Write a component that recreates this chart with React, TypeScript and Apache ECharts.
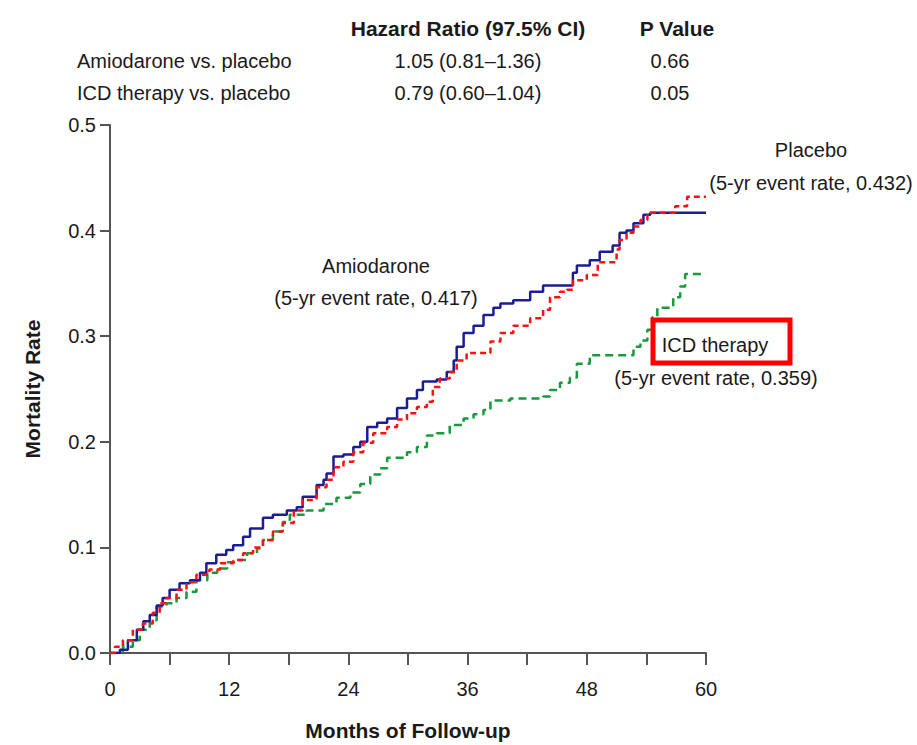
import React, { useEffect, useRef } from "react";
import * as echarts from "echarts";

// Kaplan-Meier style step data (months, cumulative mortality)
const amioMonths = [0, 1.0, 1.8, 2.7, 3.35, 4.0, 4.7, 5.3, 6.0, 7.0, 8.05, 9.06, 9.7, 10.7, 11.7, 12.4, 13.4, 14.1, 15.4, 16.4, 17.8, 18.8, 19.4, 20.8, 21.5, 21.8, 22.5, 23.5, 24.5, 25.2, 25.9, 26.9, 27.9, 28.9, 29.9, 30.9, 31.5, 32.9, 33.9, 34.6, 34.9, 35.6, 36.6, 37.6, 38.6, 39.3, 40.6, 42.3, 43.6, 46.6, 47.0, 48.3, 49.3, 50.6, 51.3, 52.0, 52.7, 53.7, 54.4, 60];
const amioRates = [0, 0.003, 0.012, 0.022, 0.030, 0.036, 0.045, 0.052, 0.060, 0.066, 0.069, 0.076, 0.085, 0.093, 0.0975, 0.102, 0.110, 0.118, 0.128, 0.131, 0.135, 0.138, 0.148, 0.159, 0.164, 0.170, 0.186, 0.188, 0.195, 0.200, 0.214, 0.218, 0.222, 0.232, 0.241, 0.249, 0.257, 0.259, 0.266, 0.277, 0.290, 0.303, 0.310, 0.320, 0.327, 0.331, 0.334, 0.342, 0.348, 0.360, 0.367, 0.372, 0.380, 0.386, 0.398, 0.400, 0.407, 0.415, 0.417, 0.417];

const placeboMonths = [0, 0.5, 1.3, 2.3, 3.3, 4.3, 5.0, 5.7, 6.7, 7.7, 8.7, 10.0, 11.1, 12.4, 13.4, 14.4, 15.4, 16.4, 17.4, 18.5, 19.4, 20.8, 21.8, 22.5, 23.5, 24.5, 25.5, 26.5, 27.9, 28.9, 29.9, 30.9, 31.9, 32.5, 33.2, 34.2, 34.9, 35.9, 38.3, 39.3, 40.6, 42.3, 43.6, 44.3, 45.3, 46.0, 46.6, 48.0, 49.1, 51.0, 51.3, 52.0, 52.7, 53.4, 54.1, 56.9, 58.1, 60];
const placeboRates = [0, 0.006, 0.012, 0.022, 0.028, 0.038, 0.047, 0.052, 0.060, 0.067, 0.074, 0.079, 0.085, 0.088, 0.0945, 0.100, 0.107, 0.115, 0.123, 0.135, 0.145, 0.157, 0.164, 0.176, 0.181, 0.190, 0.199, 0.208, 0.214, 0.221, 0.227, 0.233, 0.238, 0.252, 0.260, 0.266, 0.277, 0.284, 0.295, 0.303, 0.310, 0.317, 0.325, 0.337, 0.342, 0.344, 0.353, 0.358, 0.370, 0.382, 0.391, 0.398, 0.404, 0.410, 0.417, 0.423, 0.432, 0.432];

const icdMonths = [0, 1.3, 2.3, 3.0, 4.0, 4.7, 5.7, 6.7, 7.7, 8.7, 9.8, 10.8, 11.8, 12.8, 13.8, 14.8, 15.4, 16.4, 17.4, 18.1, 19.8, 21.5, 22.8, 24.2, 25.2, 26.2, 27.2, 27.9, 29.9, 30.9, 31.9, 32.9, 34.2, 35.6, 36.6, 37.6, 38.3, 40.3, 43.6, 44.3, 45.3, 46.3, 47.0, 48.3, 52.7, 53.4, 54.1, 54.6, 55.1, 56.7, 57.4, 57.9, 60];
const icdRates = [0, 0.006, 0.012, 0.022, 0.031, 0.044, 0.047, 0.052, 0.058, 0.069, 0.076, 0.080, 0.086, 0.088, 0.0945, 0.099, 0.107, 0.115, 0.124, 0.131, 0.135, 0.141, 0.147, 0.152, 0.160, 0.169, 0.175, 0.185, 0.190, 0.195, 0.206, 0.208, 0.216, 0.222, 0.226, 0.230, 0.239, 0.241, 0.243, 0.249, 0.256, 0.261, 0.274, 0.282, 0.290, 0.296, 0.306, 0.318, 0.327, 0.337, 0.347, 0.359, 0.359];

const headerLabels = ["Hazard Ratio (97.5% CI)", "P Value"];
const comparisonLabels = ["Amiodarone vs. placebo", "ICD therapy vs. placebo"];
const hazardRatios = ["1.05 (0.81\u20131.36)", "0.79 (0.60\u20131.04)"];
const pValues = ["0.66", "0.05"];

const FONT = "'Liberation Sans', Arial, sans-serif";

function zip(xs: number[], ys: number[]) {
  return xs.map((x, i) => [x, ys[i]]);
}

export default function App() {
  const ref = useRef<HTMLDivElement>(null);
  useEffect(() => {
    document.body.style.margin = "0";
    const chart = echarts.init(ref.current!, null, { renderer: "svg" });
    const txt = (text: string, x: number, y: number, align: string, opts: any = {}) => ({
      type: "text",
      x,
      y,
      z: 100,
      rotation: opts.rotation || 0,
      style: {
        text,
        fill: "#1a1a1a",
        font: `${opts.bold ? "bold " : ""}${opts.size || 20}px ${FONT}`,
        textAlign: align,
        textVerticalAlign: "middle",
      },
    });
    chart.setOption({
      animation: false,
      backgroundColor: "#ffffff",
      grid: { left: 110, right: 211, top: 125, bottom: 92 },
      xAxis: {
        type: "value",
        min: 0,
        max: 60,
        interval: 6,
        splitLine: { show: false },
        axisLine: { show: true, lineStyle: { color: "#555", width: 2 } },
        axisTick: { show: true, length: 12, lineStyle: { color: "#555", width: 2 } },
        axisLabel: {
          margin: 26,
          color: "#1a1a1a",
          fontSize: 20,
          fontFamily: FONT,
          formatter: (v: number) => (v % 12 === 0 ? String(v) : ""),
        },
      },
      yAxis: {
        type: "value",
        min: 0,
        max: 0.5,
        interval: 0.1,
        splitLine: { show: false },
        axisLine: { show: true, lineStyle: { color: "#555", width: 2 } },
        axisTick: { show: true, length: 10, lineStyle: { color: "#555", width: 2 } },
        axisLabel: {
          margin: 14,
          color: "#1a1a1a",
          fontSize: 20,
          fontFamily: FONT,
          formatter: (v: number) => v.toFixed(1),
        },
      },
      series: [
        {
          name: "Amiodarone",
          type: "line",
          step: "end",
          showSymbol: false,
          data: zip(amioMonths, amioRates),
          lineStyle: { color: "#1c1c94", width: 2.5 },
          z: 3,
        },
        {
          name: "Placebo",
          type: "line",
          step: "end",
          showSymbol: false,
          data: zip(placeboMonths, placeboRates),
          lineStyle: { color: "#ff1010", width: 2.5, type: [6, 4] },
          z: 4,
        },
        {
          name: "ICD therapy",
          type: "line",
          step: "end",
          showSymbol: false,
          data: zip(icdMonths, icdRates),
          lineStyle: { color: "#169a3c", width: 2.5, type: [8, 5] },
          z: 2,
        },
      ],
      graphic: [
        txt(headerLabels[0], 468, 28, "center", { bold: true, size: 21 }),
        txt(headerLabels[1], 677, 28, "center", { bold: true, size: 21 }),
        txt(comparisonLabels[0], 77, 61, "left"),
        txt(hazardRatios[0], 468, 61, "center"),
        txt(pValues[0], 670, 61, "center"),
        txt(comparisonLabels[1], 77, 93, "left"),
        txt(hazardRatios[1], 468, 93, "center"),
        txt(pValues[1], 670, 93, "center"),
        txt("Placebo", 811, 150, "center"),
        txt("(5-yr event rate, 0.432)", 811, 183, "center"),
        txt("Amiodarone", 376, 266, "center"),
        txt("(5-yr event rate, 0.417)", 376, 298, "center"),
        {
          type: "rect",
          z: 99,
          shape: { x: 653, y: 320, width: 137, height: 43 },
          style: { fill: "#ffffff", stroke: "#ff0000", lineWidth: 5 },
        },
        txt("ICD therapy", 715, 345, "center"),
        txt("(5-yr event rate, 0.359)", 716, 378, "center"),
        txt("Mortality Rate", 32, 389, "center", { bold: true, size: 21, rotation: Math.PI / 2 }),
        txt("Months of Follow-up", 408, 730, "center", { bold: true, size: 21 }),
      ],
    });
    return () => chart.dispose();
  }, []);
  return <div ref={ref} style={{ width: 917, height: 745 }} />;
}
